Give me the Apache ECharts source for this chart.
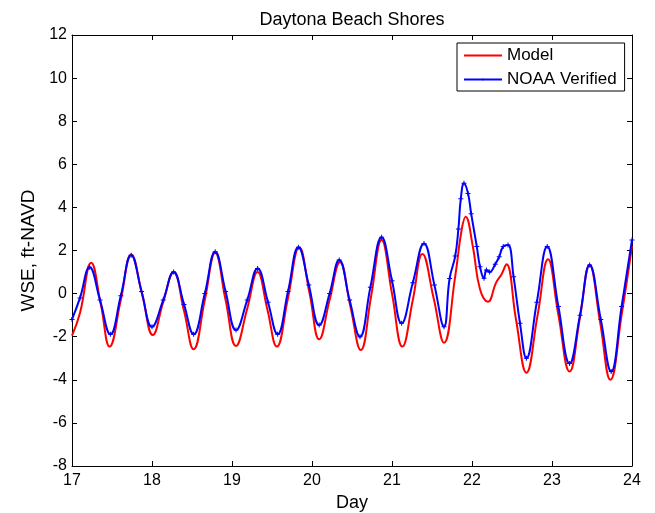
<!DOCTYPE html>
<html>
<head>
<meta charset="utf-8">
<script src="https://cdn.jsdelivr.net/npm/echarts@6/dist/echarts.min.js"></script>
<style>
html,body{margin:0;padding:0;background:#fff;}
#chart{width:655px;height:513px;}
</style>
</head>
<body>
<div id="chart"></div>
<script>
const chartTitle = 'Daytona Beach Shores';
const seriesNames = ['Model', 'NOAA Verified'];
const xTicks = [17, 18, 19, 20, 21, 22, 23, 24];
const yTicks = [-8, -6, -4, -2, 0, 2, 4, 6, 8, 10, 12];

const modelDays = [17.00, 17.10, 17.24, 17.36, 17.47, 17.61, 17.74, 17.88, 18.01, 18.14, 18.27, 18.40, 18.52, 18.66, 18.79, 18.92, 19.05, 19.19, 19.32, 19.44, 19.56, 19.70, 19.84, 19.97, 20.09, 20.22, 20.35, 20.48, 20.61, 20.74, 20.87, 21.00, 21.13, 21.26, 21.38, 21.52, 21.65, 21.79, 21.87, 21.92, 22.01, 22.10, 22.20, 22.30, 22.37, 22.43, 22.55, 22.68, 22.82, 22.95, 23.08, 23.22, 23.35, 23.47, 23.60, 23.73, 23.87, 24.00];
const modelValues = [-1.95, -0.9, 1.43, -0.5, -2.46, -0.3, 1.82, -0.1, -1.92, -0.4, 1.0, -0.8, -2.58, -0.3, 1.9, -0.3, -2.43, -0.7, 1.0, -0.7, -2.46, -0.2, 2.15, 0.0, -2.12, -0.3, 1.45, -0.6, -2.62, -0.1, 2.49, 0.0, -2.46, -0.3, 1.84, -0.2, -2.28, 0.8, 2.95, 3.57, 2.2, 0.2, -0.38, 0.5, 0.9, 1.36, -1.2, -3.67, -1.0, 1.59, -1.0, -3.62, -1.1, 1.33, -1.3, -4.0, -1.0, 2.2];

const noaaDays = [17.00, 17.10, 17.22, 17.35, 17.48, 17.61, 17.74, 17.87, 18.00, 18.14, 18.27, 18.40, 18.52, 18.66, 18.79, 18.92, 19.05, 19.19, 19.32, 19.45, 19.57, 19.70, 19.83, 19.96, 20.09, 20.22, 20.34, 20.47, 20.60, 20.73, 20.87, 21.00, 21.12, 21.26, 21.40, 21.53, 21.65, 21.72, 21.79, 21.83, 21.86, 21.90, 21.95, 21.99, 22.06, 22.10, 22.15, 22.18, 22.22, 22.29, 22.34, 22.39, 22.45, 22.52, 22.60, 22.68, 22.81, 22.94, 23.08, 23.22, 23.35, 23.47, 23.61, 23.74, 23.87, 24.00];
const noaaValues = [-1.2, -0.2, 1.22, -0.3, -1.89, -0.1, 1.78, 0.1, -1.54, -0.3, 1.0, -0.5, -1.89, 0.0, 1.94, 0.1, -1.69, -0.3, 1.17, -0.4, -1.89, 0.1, 2.15, 0.4, -1.46, 0.0, 1.56, -0.3, -2.0, 0.3, 2.61, 0.6, -1.38, 0.5, 2.33, 0.4, -1.54, 0.7, 1.74, 3.0, 4.4, 5.12, 4.65, 3.7, 2.18, 1.25, 0.71, 1.1, 1.0, 1.36, 1.71, 2.18, 2.25, 0.78, -1.38, -3.0, -0.4, 2.18, -0.6, -3.24, -1.0, 1.33, -1.2, -3.62, -0.6, 2.49];

const zip = (xs, ys) => xs.map((x, i) => [x, ys[i]]);
const FONT = 'Liberation Sans, Arial, sans-serif';
// plus marker drawn small inside a padded 20x20 box (so the legend icon stays small too)
const plusPath = 'path://M0,0M20,20M9.5,7.5L10.5,7.5L10.5,9.5L12.5,9.5L12.5,10.5L10.5,10.5L10.5,12.5L9.5,12.5L9.5,10.5L7.5,10.5L7.5,9.5L9.5,9.5Z';

const axisCommon = {
  axisLine: {show: true, onZero: false, lineStyle: {color: '#000', width: 1}},
  axisTick: {show: true, inside: true, length: 5, lineStyle: {color: '#000'}},
  splitLine: {show: false}
};

const chart = echarts.init(document.getElementById('chart'), null, {renderer: 'canvas'});
chart.setOption({
  animation: false,
  backgroundColor: '#fff',
  title: {
    text: chartTitle, left: 352, top: 11, textAlign: 'center', padding: 0,
    textStyle: {fontFamily: FONT, fontSize: 18, fontWeight: 'normal', color: '#000'}
  },
  legend: {
    orient: 'vertical', left: 457, top: 43,
    padding: [4, 8, 3, 6], itemGap: 7, itemWidth: 38, itemHeight: 12,
    backgroundColor: '#fff', borderColor: '#000', borderWidth: 1, borderRadius: 0,
    textStyle: {fontFamily: FONT, fontSize: 17, color: '#000'},
    data: [{name: seriesNames[0], itemStyle: {opacity: 0}}, {name: seriesNames[1]}]
  },
  grid: {left: 72, top: 35, right: 23, bottom: 47, containLabel: false, outerBoundsMode: 'none'},
  xAxis: [
    Object.assign({
      type: 'value', min: xTicks[0], max: xTicks[xTicks.length - 1], interval: 1, position: 'bottom',
      name: 'Day', nameLocation: 'middle', nameGap: 28,
      nameTextStyle: {fontFamily: FONT, fontSize: 18, color: '#000'},
      axisLabel: {fontFamily: FONT, fontSize: 16, color: '#000', margin: 7}
    }, axisCommon),
    Object.assign({
      type: 'value', min: xTicks[0], max: xTicks[xTicks.length - 1], interval: 1, position: 'top',
      axisLabel: {show: false}
    }, axisCommon)
  ],
  yAxis: [
    Object.assign({
      type: 'value', min: yTicks[0], max: yTicks[yTicks.length - 1], interval: 2, position: 'left',
      name: 'WSE, ft-NAVD', nameLocation: 'middle', nameGap: 31,
      nameTextStyle: {fontFamily: FONT, fontSize: 19, color: '#000'},
      axisLabel: {fontFamily: FONT, fontSize: 16, color: '#000', margin: 5}
    }, axisCommon),
    Object.assign({
      type: 'value', min: yTicks[0], max: yTicks[yTicks.length - 1], interval: 2, position: 'right',
      axisLabel: {show: false}
    }, axisCommon)
  ],
  series: [
    {
      name: seriesNames[0], type: 'line', xAxisIndex: 0, yAxisIndex: 0,
      data: zip(modelDays, modelValues), smooth: 0.45, showSymbol: false, symbol: 'none',
      lineStyle: {color: '#ff0000', width: 2}, itemStyle: {color: '#ff0000'}, z: 2
    },
    {
      name: seriesNames[1], type: 'line', xAxisIndex: 0, yAxisIndex: 0,
      data: zip(noaaDays, noaaValues), smooth: 0.45, showSymbol: true, symbol: plusPath, symbolSize: 20,
      lineStyle: {color: '#0000ff', width: 2}, itemStyle: {color: '#0000ff'}, z: 3
    }
  ]
});
</script>
</body>
</html>
